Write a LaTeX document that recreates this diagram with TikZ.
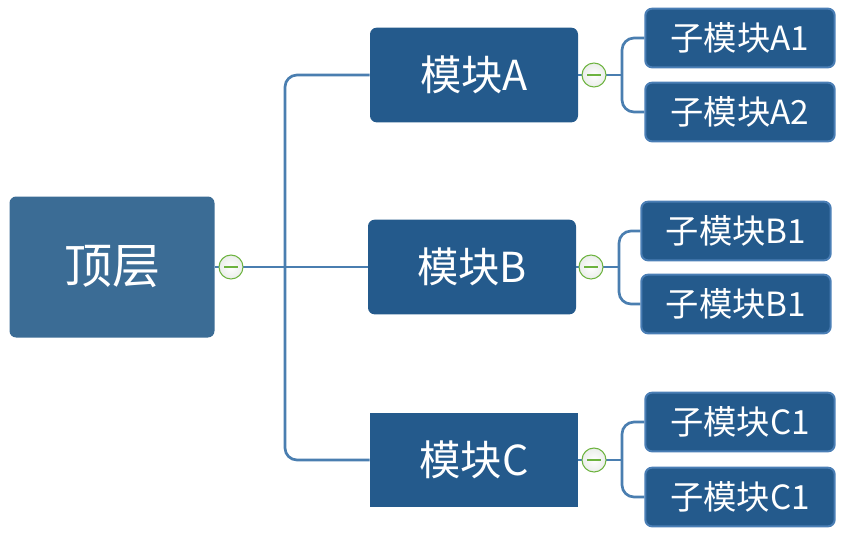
\documentclass[tikz,border=0pt]{standalone}
\usepackage{fontspec}
\setmainfont{Noto Sans CJK SC}
\begin{document}
\definecolor{topc}{HTML}{3B6C95}
\definecolor{modc}{HTML}{245A8C}
\definecolor{bord}{HTML}{4A7EB5}
\definecolor{linec}{HTML}{4A7EB0}
\definecolor{grn}{HTML}{6DB33F}
\begin{tikzpicture}[x=0.75pt,y=-0.75pt,
  box/.style={inner sep=0,text=white,anchor=center},
  top/.style={box,fill=topc,rounded corners=5pt,minimum width=153.75pt,minimum height=105.75pt,font=\fontsize{36}{36}\selectfont},
  mod/.style={box,fill=modc,rounded corners=5pt,minimum width=156pt,minimum height=71pt,font=\fontsize{31}{31}\selectfont},
  sub/.style={box,fill=modc,draw=bord,line width=1.5pt,rounded corners=5pt,minimum width=142pt,minimum height=44pt,font=\fontsize{25}{25}\selectfont},
  conn/.style={draw=linec,line width=2pt,rounded corners=9pt},
  tog/.style={circle,draw=grn,line width=0.8pt,inner color=white,outer color=green!8!gray!15,minimum size=18pt,inner sep=0,
    path picture={\draw[grn,line width=1pt] ([xshift=-5pt]path picture bounding box.center) -- ([xshift=5pt]path picture bounding box.center);}}
]
\useasboundingbox (0,0) rectangle (842,543);
\node[top] (T) at (112,267) {顶层};
\node[mod] (A) at (474,75) {模块A};
\node[mod] (B) at (472,267) {模块B};
\node[mod,rounded corners=0] (C) at (474,460) {模块C};
\node[sub] (A1) at (740,38) {子模块A1};
\node[sub] (A2) at (740,112) {子模块A2};
\node[sub] (B1) at (736,231) {子模块B1};
\node[sub] (B2) at (736,304) {子模块B1};
\node[sub] (C1) at (740,422) {子模块C1};
\node[sub] (C2) at (740,497) {子模块C1};
\coordinate (jt) at (285,267);
\coordinate (ja) at (622,75);
\coordinate (jb) at (619,267);
\coordinate (jc) at (622,460);
\draw[conn] (T.east) -- (B.west);
\draw[conn] (A.west) -| (jt) |- (C.west);
\draw[conn] (A.east) -- (ja);
\draw[conn] (A1.west) -| (ja) |- (A2.west);
\draw[conn] (B.east) -- (jb);
\draw[conn] (B1.west) -| (jb) |- (B2.west);
\draw[conn] (C.east) -- (jc);
\draw[conn] (C1.west) -| (jc) |- (C2.west);
\node[tog] (t0) at (231,267) {};
\node[tog] (t1) at (594,75) {};
\node[tog] (t2) at (591,267) {};
\node[tog] (t3) at (594,460) {};
\end{tikzpicture}
\end{document}
